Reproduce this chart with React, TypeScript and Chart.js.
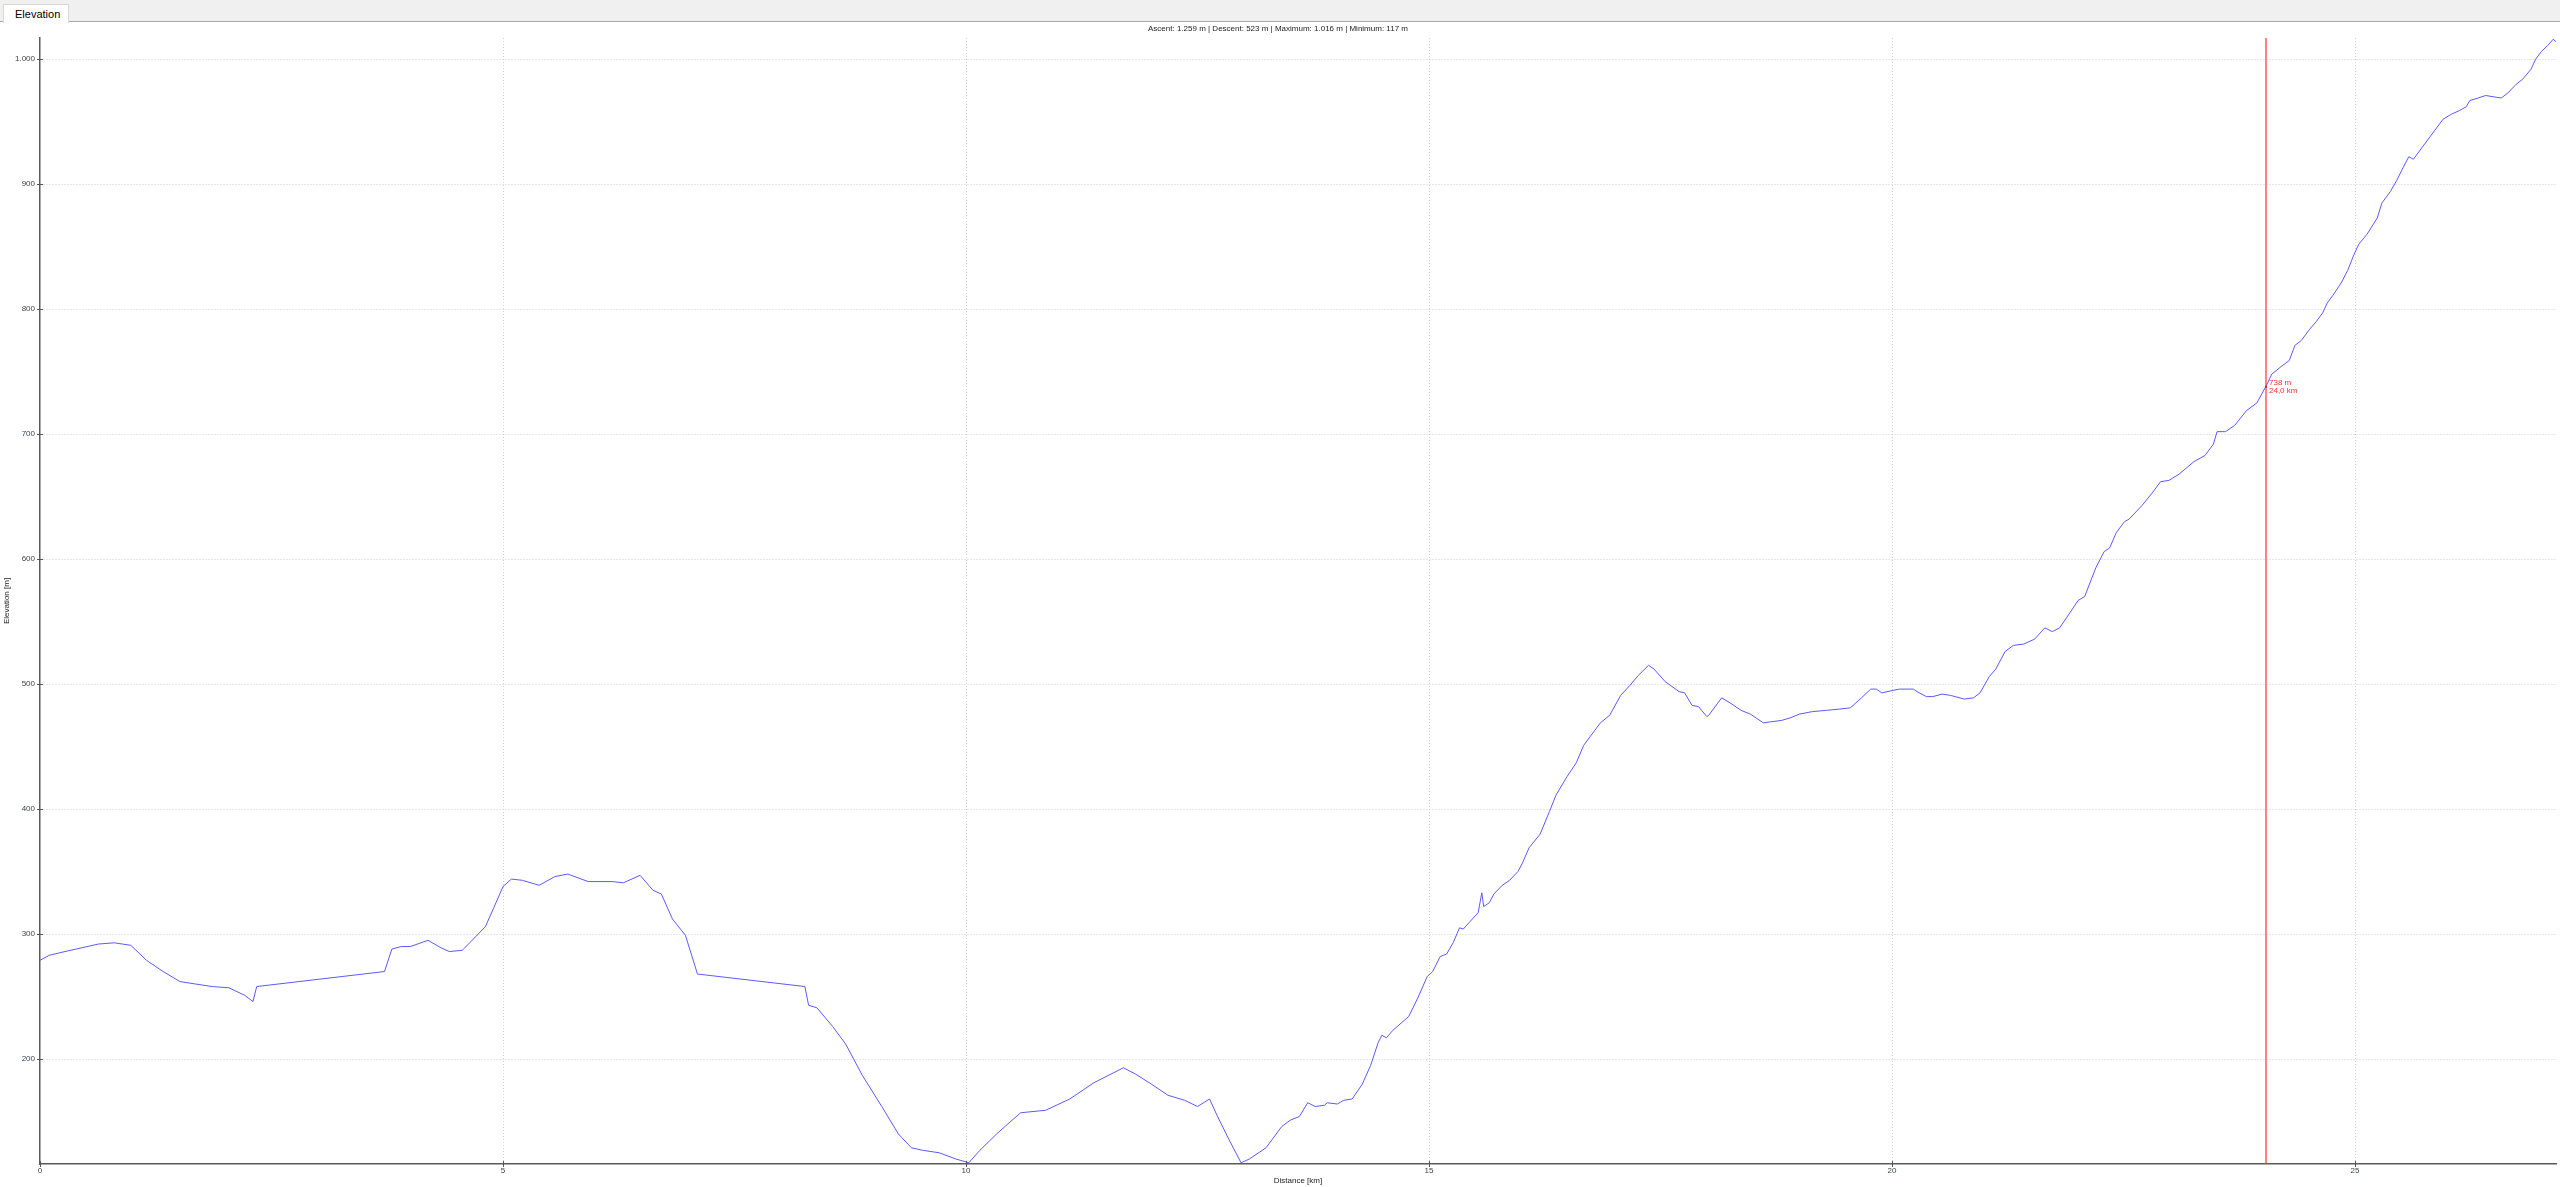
import React, { useEffect, useRef } from "react";
import { Chart, registerables } from "chart.js";

Chart.register(...registerables);

const distanceKm: number[] = [
  0.0, 0.1, 0.27, 0.45, 0.63, 0.8, 0.98, 1.15, 1.33, 1.51, 1.68, 1.86, 2.04, 2.21, 2.3, 2.34,
  3.72, 3.8, 3.9, 4.0, 4.19, 4.33, 4.42, 4.56, 4.68, 4.81, 4.9, 5.0, 5.09, 5.21, 5.39, 5.56,
  5.7, 5.92, 6.18, 6.3, 6.48, 6.62, 6.71, 6.83, 6.97, 7.1, 8.26, 8.3, 8.39, 8.56, 8.7, 8.88,
  9.09, 9.27, 9.41, 9.53, 9.71, 9.89, 10.03, 10.15, 10.33, 10.42, 10.59, 10.86, 11.12, 11.38,
  11.7, 11.83, 12.0, 12.18, 12.36, 12.5, 12.63, 12.71, 12.83, 12.97, 13.06, 13.24, 13.41, 13.5,
  13.6, 13.69, 13.77, 13.87, 13.9, 14.01, 14.08, 14.17, 14.28, 14.37, 14.45, 14.49, 14.54,
  14.61, 14.78, 14.88, 14.98, 15.04, 15.12, 15.19, 15.26, 15.33, 15.37, 15.43, 15.53, 15.57,
  15.59, 15.65, 15.7, 15.79, 15.87, 15.96, 16.01, 16.08, 16.2, 16.3, 16.37, 16.49, 16.59,
  16.67, 16.74, 16.85, 16.95, 17.07, 17.17, 17.26, 17.37, 17.43, 17.55, 17.7, 17.76, 17.84,
  17.91, 18.0, 18.02, 18.16, 18.25, 18.37, 18.47, 18.61, 18.81, 18.9, 19.0, 19.14, 19.29,
  19.43, 19.55, 19.67, 19.77, 19.83, 19.89, 20.01, 20.08, 20.23, 20.27, 20.37, 20.44, 20.54,
  20.63, 20.78, 20.88, 20.95, 21.05, 21.12, 21.22, 21.31, 21.42, 21.54, 21.65, 21.73, 21.81,
  21.92, 22.01, 22.08, 22.2, 22.29, 22.35, 22.42, 22.51, 22.56, 22.7, 22.81, 22.9, 22.99,
  23.1, 23.26, 23.38, 23.47, 23.51, 23.6, 23.7, 23.83, 23.94, 24.05, 24.1, 24.2, 24.29, 24.35,
  24.42, 24.51, 24.58, 24.65, 24.7, 24.76, 24.85, 24.92, 24.99, 25.04, 25.13, 25.24, 25.29,
  25.38, 25.45, 25.51, 25.58, 25.63, 25.72, 25.81, 25.88, 25.95, 26.04, 26.13, 26.2, 26.24,
  26.33, 26.41, 26.49, 26.58, 26.65, 26.74, 26.81, 26.9, 26.95, 27.01, 27.08, 27.14, 27.17,
];

const elevationM: number[] = [
  279, 283, 286, 289, 292, 293, 291, 279, 270, 262, 260, 258, 257, 251, 246, 258,
  270, 288, 290, 290, 295, 289, 286, 287, 296, 306, 321, 338, 344, 343, 339, 346,
  348, 342, 342, 341, 347, 335, 332, 312, 299, 268, 258, 243, 241, 226, 212, 187,
  162, 140, 129, 127, 125, 120, 117, 127, 140, 146, 157, 159, 168, 181,
  193, 188, 180, 171, 167, 162, 168, 155, 137, 117, 120, 129, 146, 151,
  154, 165, 162, 163, 165, 164, 167, 168, 180, 195, 213, 219, 217,
  223, 234, 249, 266, 270, 282, 284, 293, 305, 304, 309, 317, 333,
  322, 325, 332, 339, 343, 350, 357, 369, 380, 398, 411, 426, 437,
  451, 458, 469, 475, 491, 499, 507, 515, 512, 502, 494, 493, 483,
  482, 474, 475, 489, 485, 479, 476, 469, 471, 473, 476, 478, 479,
  480, 481, 489, 496, 496, 493, 495, 496, 496, 494, 490, 490, 492,
  491, 488, 489, 493, 506, 512, 526, 531, 532, 536, 545, 542, 545,
  557, 567, 570, 593, 606, 609, 621, 630, 632, 643, 653, 662, 663,
  668, 678, 683, 692, 702, 702, 707, 719, 725, 740, 748, 754, 759, 771,
  775, 784, 790, 797, 805, 811, 821, 831, 844, 852, 860, 873, 885,
  894, 903, 912, 922, 920, 929, 938, 945, 952, 956, 959, 962, 967,
  969, 971, 970, 969, 973, 980, 984, 992, 1000, 1006, 1011, 1016, 1014,
];

const titleText = "Ascent: 1.259 m | Descent: 523 m | Maximum: 1.016 m | Minimum: 117 m";
const xAxisTitle = "Distance [km]";
const yAxisTitle = "Elevation [m]";
const tabLabel = "Elevation";
const xTickValues: number[] = [0, 5, 10, 15, 20, 25];
const yTickValues: number[] = [200, 300, 400, 500, 600, 700, 800, 900, 1000];
const cursorKm = 24.04;
const cursorElev = 738;

const fmtThousands = (v: number) => {
  const s = Math.round(v).toString();
  return s.replace(/\B(?=(\d{3})+(?!\d))/g, ".");
};

const FONT = "'Liberation Sans', Arial, sans-serif";

export default function App() {
  const canvasRef = useRef<HTMLCanvasElement | null>(null);

  useEffect(() => {
    document.body.style.margin = "0";
    document.body.style.overflow = "hidden";
    document.body.style.background = "#ffffff";
    const canvas = canvasRef.current;
    if (!canvas) return;

    const crossTicks = {
      id: "crossTicks",
      afterDraw(chart: any) {
        const { ctx, chartArea } = chart;
        const xs = chart.scales.x;
        const ys = chart.scales.y;
        ctx.save();
        ctx.strokeStyle = "#555555";
        ctx.lineWidth = 1;
        ctx.beginPath();
        yTickValues.forEach((v) => {
          const py = Math.round(ys.getPixelForValue(v)) + 0.5;
          ctx.moveTo(chartArea.left - 3, py);
          ctx.lineTo(chartArea.left + 3, py);
        });
        xTickValues.forEach((v) => {
          const px = Math.round(xs.getPixelForValue(v)) + 0.5;
          ctx.moveTo(px, chartArea.bottom - 3);
          ctx.lineTo(px, chartArea.bottom + 3);
        });
        ctx.stroke();
        ctx.restore();
      },
    };

    const cursor = {
      id: "cursor",
      afterDatasetsDraw(chart: any) {
        const { ctx, chartArea } = chart;
        const xs = chart.scales.x;
        const ys = chart.scales.y;
        const px = Math.round(xs.getPixelForValue(cursorKm));
        const py = ys.getPixelForValue(cursorElev);
        ctx.save();
        ctx.strokeStyle = "rgba(255,50,50,0.6)";
        ctx.lineWidth = 2;
        ctx.beginPath();
        ctx.moveTo(px, chartArea.top);
        ctx.lineTo(px, chartArea.bottom);
        ctx.stroke();
        ctx.fillStyle = "#cc2222";
        ctx.fillRect(px - 1, py - 1, 2, 2);
        ctx.fillStyle = "#ff3030";
        ctx.font = `8px ${FONT}`;
        ctx.textAlign = "left";
        ctx.textBaseline = "middle";
        ctx.fillText(`${cursorElev} m`, px + 3, py - 4);
        ctx.fillText(`${cursorKm.toFixed(1).replace(".", ",")} km`, px + 3, py + 4);
        ctx.restore();
      },
    };

    const points = distanceKm.map((d, i) => ({ x: d, y: elevationM[i] }));

    const chart = new Chart(canvas, {
      type: "line",
      data: {
        datasets: [
          {
            data: points,
            borderColor: "rgb(90,90,255)",
            borderWidth: 1,
            pointRadius: 0,
            tension: 0,
            fill: false,
          },
        ],
      },
      options: {
        responsive: false,
        animation: false,
        events: [],
        layout: { padding: { top: 0, right: 4, left: 0, bottom: 0 } },
        plugins: {
          legend: { display: false },
          tooltip: { enabled: false },
          title: {
            display: true,
            text: titleText,
            color: "#222222",
            font: { family: FONT, size: 8, weight: "normal" },
            padding: { top: 2.2, bottom: 4.2 },
          },
        },
        scales: {
          x: {
            type: "linear",
            min: 0,
            max: 27.17,
            afterBuildTicks: (axis: any) => {
              axis.ticks = xTickValues.map((v) => ({ value: v }));
            },
            afterFit: (axis: any) => {
              axis.height = 23;
            },
            ticks: {
              color: "#3a3f4a",
              font: { family: FONT, size: 8 },
              padding: 1.5,
              maxRotation: 0,
              autoSkip: false,
              callback: (v: any) => String(v),
            },
            grid: {
              color: (c: any) => (c.tick && c.tick.value === 0 ? "rgba(0,0,0,0)" : "#cfcfcf"),
              lineWidth: 1,
              tickLength: 3,
              tickColor: "#555555",
              drawTicks: false,
            },
            border: { display: true, color: "#5a5a5a", width: 1.5, dash: [1, 2] },
            title: {
              display: true,
              text: xAxisTitle,
              color: "#222222",
              font: { family: FONT, size: 8 },
              padding: { top: 0, bottom: 1.2 },
            },
          },
          y: {
            type: "linear",
            min: 116,
            max: 1017,
            afterBuildTicks: (axis: any) => {
              axis.ticks = yTickValues.map((v) => ({ value: v }));
            },
            afterFit: (axis: any) => {
              axis.width = 40;
            },
            ticks: {
              color: "#3a3f4a",
              font: { family: FONT, size: 8 },
              padding: 5,
              autoSkip: false,
              callback: (v: any) => fmtThousands(Number(v)),
            },
            grid: {
              color: "#cfcfcf",
              lineWidth: 1,
              tickLength: 3,
              tickColor: "#555555",
              drawTicks: false,
            },
            border: { display: true, color: "#5a5a5a", width: 1.5, dash: [1, 2] },
            title: {
              display: true,
              text: yAxisTitle,
              color: "#222222",
              font: { family: FONT, size: 8 },
              padding: { top: 2.2, bottom: 0 },
            },
          },
        },
      },
      plugins: [crossTicks, cursor],
    } as any);

    return () => {
      chart.destroy();
    };
  }, []);

  return (
    <div style={{ position: "relative", width: 2560, height: 1187, background: "#ffffff", overflow: "hidden" }}>
      <div
        style={{
          position: "absolute",
          left: 0,
          top: 0,
          width: 2560,
          height: 22,
          background: "#f0f0f0",
        }}
      >
        <div
          style={{
            position: "absolute",
            left: 0,
            top: 21,
            width: 2560,
            height: 1,
            background: "#a8a8a8",
          }}
        />
        <div
          style={{
            position: "absolute",
            left: 3,
            top: 4,
            width: 64,
            height: 18,
            background: "#ffffff",
            borderTop: "1px solid #d8d8d8",
            borderLeft: "1px solid #d8d8d8",
            borderRight: "1px solid #d8d8d8",
            boxSizing: "content-box",
            fontFamily: FONT,
            fontSize: 11,
            lineHeight: "18px",
            color: "#000000",
          }}
        >
          <span style={{ position: "absolute", left: 11, top: 0 }}>{tabLabel}</span>
        </div>
      </div>
      <canvas
        ref={canvasRef}
        width={2560}
        height={1165}
        style={{ position: "absolute", left: 0, top: 22, display: "block", width: 2560, height: 1165 }}
      />
    </div>
  );
}
